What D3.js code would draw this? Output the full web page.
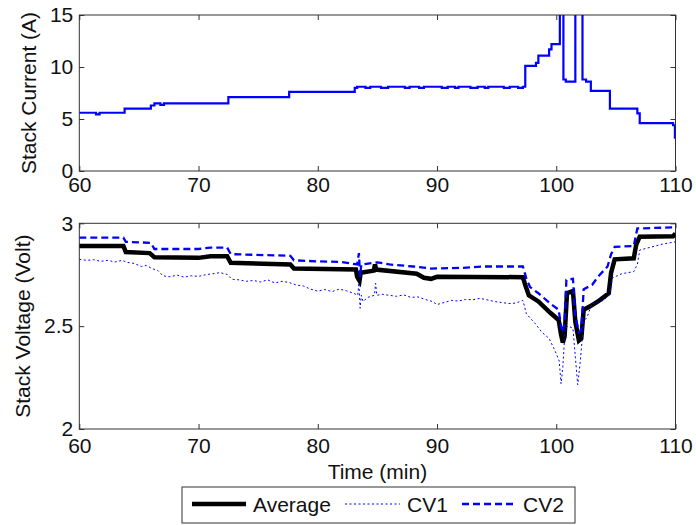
<!DOCTYPE html>
<html>
<head>
<meta charset="utf-8">
<script src="https://cdn.jsdelivr.net/npm/d3@7"></script>
<style>
  body { margin: 0; background: #fff; }
  svg text { font-family: "Liberation Sans", Arial, sans-serif; fill: #111; }
</style>
</head>
<body>
<div id="chart"></div>
<script>
// time in minutes
const xTicks = [60, 70, 80, 90, 100, 110];
const currentTicks = [0, 5, 10, 15];
const voltTicks = [2, 2.5, 3];

// stack current (A), drawn as steps
const current = [
  [60, 5.6], [61.4, 5.45], [61.7, 5.6], [63.8, 6.0], [66.0, 6.3], [66.3, 6.5], [66.8, 6.35], [67.1, 6.5],
  [72.5, 7.1], [77.6, 7.6], [83.1, 8.0], [83.3, 8.1], [84.0, 8.0], [84.4, 8.1], [85.3, 8.0], [85.9, 8.1],
  [87.3, 8.0], [87.7, 8.1], [88.5, 8.0], [88.9, 8.1], [90.4, 8.0], [90.9, 8.1], [91.5, 8.0], [91.8, 8.1],
  [92.8, 8.0], [93.4, 8.1], [94.0, 8.0], [94.3, 8.1], [95.6, 8.0], [96.1, 8.1], [96.8, 8.0], [97.2, 8.1],
  [97.4, 10.1], [98.3, 10.4], [98.5, 11.1], [99.4, 11.7], [99.6, 12.2], [100.3, 20], [100.6, 8.8], [100.8, 8.6],
  [101.6, 20], [102.2, 8.8], [102.5, 8.6], [102.9, 7.7], [104.5, 6.0], [106.8, 5.55], [107.0, 4.6],
  [109.8, 4.4], [109.95, 3.2], [110, 3.2]
];

// stack voltage (Volt)
const average = [
  [60, 2.89], [63.7, 2.89], [63.9, 2.86], [65.9, 2.855], [66.3, 2.835], [70, 2.832], [71, 2.84], [72.4, 2.84],
  [72.7, 2.808], [77.7, 2.80], [78, 2.78], [83.2, 2.775], [83.3, 2.74], [83.5, 2.72], [83.6, 2.76], [84.7, 2.77],
  [84.8, 2.80], [84.9, 2.775], [88.3, 2.755], [88.9, 2.735], [89.5, 2.73], [90, 2.74], [97.2, 2.738],
  [97.4, 2.70], [97.7, 2.65], [98.5, 2.62], [99.5, 2.565], [100.2, 2.53], [100.4, 2.46], [100.55, 2.42],
  [100.7, 2.45], [100.9, 2.66], [101.4, 2.67], [101.6, 2.52], [101.9, 2.43], [102.1, 2.44], [102.3, 2.58],
  [102.8, 2.595], [103.5, 2.62], [104.4, 2.66], [104.6, 2.76], [104.9, 2.825], [106.5, 2.83], [106.7, 2.895],
  [107, 2.935], [109.8, 2.937], [110, 2.95]
];

const cv1 = [
  [60, 2.825], [60.6, 2.82], [61.2, 2.823], [61.8, 2.815], [62.4, 2.82], [63, 2.812], [63.6, 2.82], [64, 2.81],
  [64.6, 2.805], [65.2, 2.79], [65.6, 2.795], [66.1, 2.78], [66.6, 2.77], [67, 2.745], [67.6, 2.74], [68.2, 2.748],
  [68.8, 2.738], [69.4, 2.745], [70, 2.742], [70.6, 2.75], [71.2, 2.755], [71.8, 2.76], [72.4, 2.752],
  [72.8, 2.728], [73.4, 2.725], [74, 2.718], [74.6, 2.722], [75.2, 2.715], [75.8, 2.725], [76.4, 2.71],
  [77, 2.718], [77.6, 2.712], [78.2, 2.70], [78.8, 2.695], [79.4, 2.68], [80, 2.67], [80.6, 2.678],
  [81.2, 2.668], [81.8, 2.68], [82.4, 2.672], [83, 2.66], [83.35, 2.65], [83.45, 2.71], [83.55, 2.587],
  [83.65, 2.65], [83.8, 2.62], [84.2, 2.64], [84.75, 2.65], [84.85, 2.708], [84.95, 2.65], [85.4, 2.655],
  [86, 2.65], [86.6, 2.645], [87.2, 2.652], [87.8, 2.64], [88.4, 2.642], [89, 2.63], [89.6, 2.62], [90, 2.605],
  [90.6, 2.615], [91.2, 2.625], [91.8, 2.622], [92.4, 2.63], [93, 2.628], [93.6, 2.635], [94.2, 2.628],
  [94.8, 2.62], [95.4, 2.615], [96, 2.61], [96.6, 2.612], [97.2, 2.625], [97.5, 2.56], [97.8, 2.54],
  [98.2, 2.515], [98.8, 2.47], [99.4, 2.44], [99.9, 2.38], [100.25, 2.33], [100.4, 2.22], [100.55, 2.30],
  [100.75, 2.49], [101.0, 2.50], [101.4, 2.49], [101.6, 2.35], [101.8, 2.215], [102.0, 2.32], [102.3, 2.52],
  [102.6, 2.546], [103.0, 2.61], [104.0, 2.625], [104.5, 2.66], [104.7, 2.734], [105.5, 2.755], [106.5, 2.765],
  [106.8, 2.80], [107, 2.87], [108, 2.885], [109, 2.90], [110, 2.91]
];

const cv2 = [
  [60, 2.93], [63.7, 2.93], [63.9, 2.91], [66, 2.905], [66.3, 2.875], [70, 2.875], [71, 2.882], [72.4, 2.882],
  [72.7, 2.85], [77.7, 2.842], [78, 2.82], [80, 2.815], [82, 2.812], [83.3, 2.80], [83.45, 2.855], [83.55, 2.74],
  [83.65, 2.80], [85, 2.81], [86, 2.80], [88, 2.79], [89.5, 2.78], [92, 2.783], [94, 2.79], [97.2, 2.79],
  [97.5, 2.73], [97.8, 2.69], [98.5, 2.66], [99.5, 2.61], [100.2, 2.58], [100.4, 2.50], [100.55, 2.47],
  [100.7, 2.52], [100.85, 2.725], [101.4, 2.73], [101.6, 2.55], [101.9, 2.47], [102.1, 2.48], [102.3, 2.68],
  [103, 2.70], [103.5, 2.74], [104.3, 2.79], [104.6, 2.85], [104.9, 2.885], [106.5, 2.89], [106.8, 2.975],
  [109.8, 2.98], [110, 2.99]
];

const W = 696, H = 525;
const xLeft = 79.3, xRight = 675.5;

const svg = d3.select('#chart').append('svg')
  .attr('width', W)
  .attr('height', H);

const x = d3.scaleLinear().domain([60, 110]).range([xLeft, xRight]);
const yCur = d3.scaleLinear().domain([0, 15]).range([171, 15]);
const yVolt = d3.scaleLinear().domain([2, 3]).range([429, 223.3]);

function drawAxes(g, yScale, yTicks, xPad, id) {
  const top = yScale.range()[1], bottom = yScale.range()[0];

  g.append('clipPath').attr('id', id)
    .append('rect')
    .attr('x', xLeft).attr('y', top)
    .attr('width', xRight - xLeft).attr('height', bottom - top);

  const fmt = d3.format('~g');
  const bx = g.append('g').attr('transform', `translate(0,${bottom})`)
    .call(d3.axisBottom(x).tickValues(xTicks).tickSizeInner(-5).tickSizeOuter(0).tickPadding(xPad).tickFormat(fmt));
  g.append('g').attr('transform', `translate(0,${top})`)
    .call(d3.axisTop(x).tickValues(xTicks).tickSizeInner(-5).tickSizeOuter(0).tickFormat(''));
  const ly = g.append('g').attr('transform', `translate(${xLeft},0)`)
    .call(d3.axisLeft(yScale).tickValues(yTicks).tickSizeInner(-5).tickSizeOuter(0).tickPadding(6).tickFormat(fmt));
  g.append('g').attr('transform', `translate(${xRight},0)`)
    .call(d3.axisRight(yScale).tickValues(yTicks).tickSizeInner(-5).tickSizeOuter(0).tickFormat(''));

  g.selectAll('.domain').remove();
  g.selectAll('.tick line').attr('stroke', '#333');
  g.selectAll('.tick text').attr('font-size', 21).attr('fill', '#111')
    .attr('font-family', '"Liberation Sans", Arial, sans-serif');

  g.append('rect')
    .attr('x', xLeft).attr('y', top)
    .attr('width', xRight - xLeft).attr('height', bottom - top)
    .attr('fill', 'none').attr('stroke', '#333').attr('stroke-width', 1);
}

// top panel: current
const gTop = svg.append('g');
drawAxes(gTop, yCur, currentTicks, 6, 'clipTop');

gTop.append('path')
  .datum(current)
  .attr('clip-path', 'url(#clipTop)')
  .attr('fill', 'none')
  .attr('stroke', '#0000ff')
  .attr('stroke-width', 2.2)
  .attr('d', d3.line().x(d => x(d[0])).y(d => yCur(d[1])).curve(d3.curveStepAfter));

gTop.append('text')
  .attr('transform', `translate(29,${(15 + 171) / 2}) rotate(-90)`)
  .attr('text-anchor', 'middle')
  .attr('dy', '0.35em')
  .attr('font-size', 21)
  .text('Stack Current (A)');

// bottom panel: voltage
const gBot = svg.append('g');
drawAxes(gBot, yVolt, voltTicks, 9, 'clipBot');

const vLine = d3.line().x(d => x(d[0])).y(d => yVolt(d[1]));

const series = [
  { name: 'Average', data: average, color: '#000', width: 4.5, dash: null },
  { name: 'CV1', data: cv1, color: '#0000ff', width: 1, dash: '2,2.5' },
  { name: 'CV2', data: cv2, color: '#0000ff', width: 2.3, dash: '7,4' }
];

// draw CV1, CV2 under and over the average as in the reference
[series[0], series[1], series[2]].forEach(s => {
  gBot.append('path')
    .datum(s.data)
    .attr('clip-path', 'url(#clipBot)')
    .attr('fill', 'none')
    .attr('stroke', s.color)
    .attr('stroke-width', s.width)
    .attr('stroke-dasharray', s.dash)
    .attr('d', vLine);
});

gBot.append('text')
  .attr('transform', `translate(23,${(223.3 + 429) / 2}) rotate(-90)`)
  .attr('text-anchor', 'middle')
  .attr('dy', '0.35em')
  .attr('font-size', 21)
  .text('Stack Voltage (Volt)');

svg.append('text')
  .attr('x', (xLeft + xRight) / 2)
  .attr('y', 472)
  .attr('text-anchor', 'middle')
  .attr('dy', '0.35em')
  .attr('font-size', 21)
  .text('Time (min)');

// legend
const legend = svg.append('g');
legend.append('rect')
  .attr('x', 182).attr('y', 487)
  .attr('width', 393).attr('height', 36)
  .attr('fill', '#fff').attr('stroke', '#333');

const legendPos = [
  { line: [192, 246], text: 253 },
  { line: [345, 400], text: 407 },
  { line: [462, 513], text: 523 }
];
series.forEach((s, i) => {
  const p = legendPos[i];
  legend.append('line')
    .attr('x1', p.line[0]).attr('x2', p.line[1])
    .attr('y1', 504).attr('y2', 504)
    .attr('stroke', s.color)
    .attr('stroke-width', s.width)
    .attr('stroke-dasharray', s.dash);
  legend.append('text')
    .attr('x', p.text).attr('y', 505)
    .attr('dy', '0.35em')
    .attr('font-size', 21)
    .text(s.name);
});
</script>
</body>
</html>
